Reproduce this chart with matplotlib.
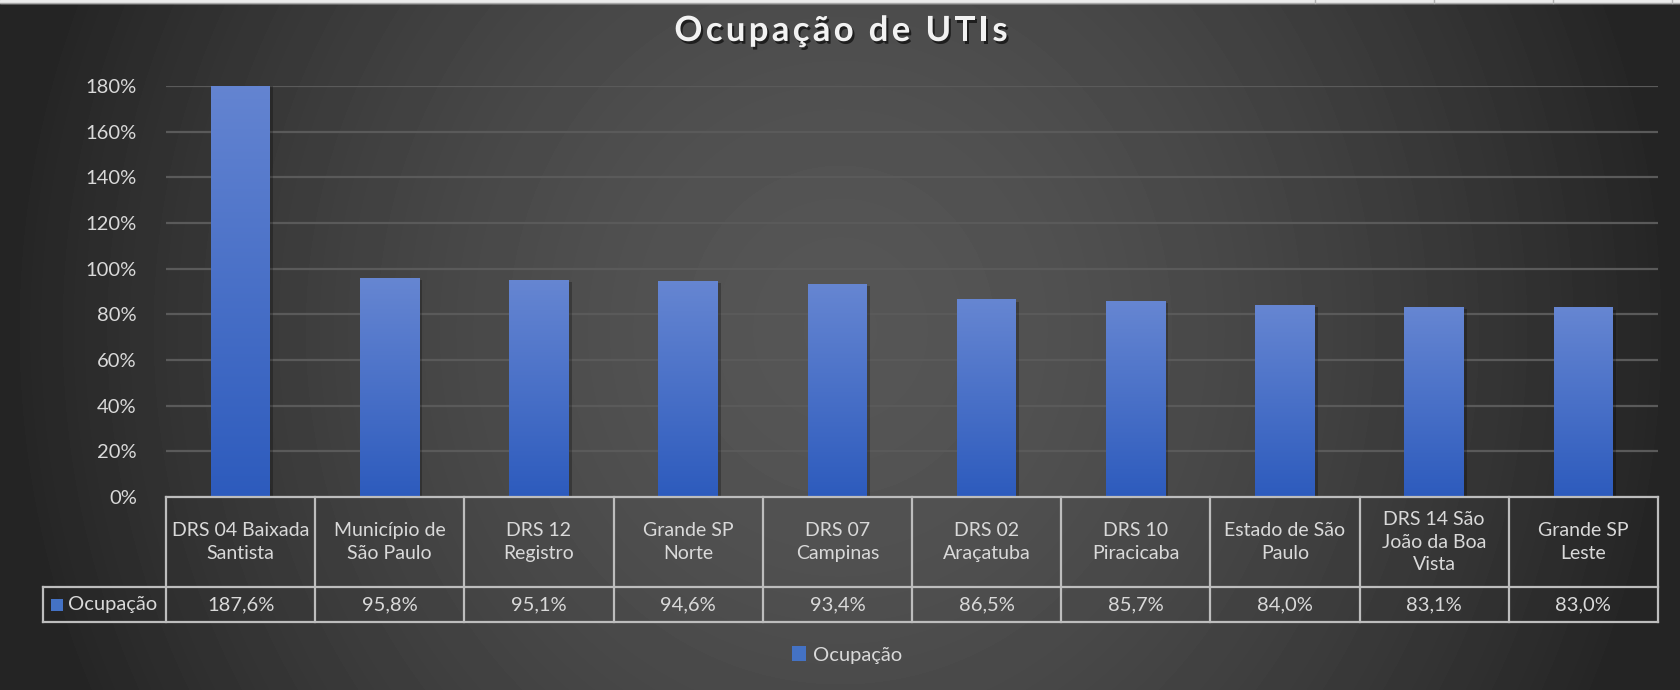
import numpy as np
import matplotlib
matplotlib.use("Agg")
import matplotlib.pyplot as plt
from matplotlib import patheffects as pe
from matplotlib.colors import LinearSegmentedColormap
from matplotlib.patches import Patch, Rectangle
from matplotlib.transforms import blended_transform_factory

plt.rcParams['font.family'] = ['Lato', 'DejaVu Sans']

# data
categories = [
    "DRS 04 Baixada\nSantista", "Município de\nSão Paulo", "DRS 12\nRegistro",
    "Grande SP\nNorte", "DRS 07\nCampinas", "DRS 02\nAraçatuba", "DRS 10\nPiracicaba",
    "Estado de São\nPaulo", "DRS 14 São\nJoão da Boa\nVista", "Grande SP\nLeste",
]
ocupacao = [1.876, 0.958, 0.951, 0.946, 0.934, 0.865, 0.857, 0.840, 0.831, 0.830]
series_name = "Ocupação"
title = "Ocupação de UTIs"
y_ticks = [0, 0.2, 0.4, 0.6, 0.8, 1.0, 1.2, 1.4, 1.6, 1.8]
y_tick_labels = ["0%", "20%", "40%", "60%", "80%", "100%", "120%", "140%", "160%", "180%"]

W, H = 1681, 690
txt = '#d9d9d9'
border = '#bdbdbd'
bar_color = '#4472c4'

fig = plt.figure(figsize=(W / 100, H / 100), dpi=100)

# radial grey background like the Excel chart area
bg = fig.add_axes([0, 0, 1, 1], zorder=-10)
yy, xx = np.mgrid[0:H, 0:W]
r = np.sqrt(((xx - 840) / (W * 0.5)) ** 2 + ((yy - 330) / (H * 1.3)) ** 2)
val = (86 - 50 * np.clip(r, 0, 1) ** 1.6) / 255
bg.imshow(val, cmap='gray', vmin=0, vmax=1, aspect='auto', extent=(0, 1, 0, 1))
bg.add_patch(Rectangle((0, 1 - 3 / H), 1, 3 / H, color='#ececec'))
bg.axhline(1 - 3 / H, color='#a6a6a6', lw=1)
for xv in [1315, 1434, 1553, 1672]:
    bg.plot([xv / W, xv / W], [1 - 3 / H, 1], color='#b0b0b0', lw=1)
bg.set_xlim(0, 1)
bg.set_ylim(0, 1)
bg.axis('off')

# plot area
ax = fig.add_axes([166 / W, 1 - 497 / H, (1658 - 166) / W, (497 - 86) / H])
ax.patch.set_alpha(0)
x = np.arange(len(categories))
bars = ax.bar(x, ocupacao, width=0.4, color=bar_color, zorder=3)

grad = LinearSegmentedColormap.from_list('bar', ['#2d5bbd', '#6686d2'])
for b in bars:
    b.set_path_effects([pe.SimplePatchShadow(offset=(2, -1.5), shadow_rgbFace='black', alpha=0.25),
                        pe.Normal()])
    x0, w, h = b.get_x(), b.get_width(), b.get_height()
    im = ax.imshow(np.linspace(0, 1, 256).reshape(-1, 1), cmap=grad, origin='lower',
                   extent=(x0, x0 + w, 0, h), aspect='auto', zorder=4)
    # path (not the Rectangle) so the axes clip box is kept
    im.set_clip_path(b.get_path(), b.get_transform())

ax.set_xlim(-0.5, len(categories) - 0.5)
ax.set_ylim(0, 1.8)
ax.set_yticks(y_ticks)
ax.set_yticklabels(y_tick_labels)
ax.set_xticks([])
ax.tick_params(axis='y', length=0, pad=21, labelcolor=txt, labelsize=14.5)
ax.yaxis.grid(True, color='#5a5a5a', linewidth=1.6)
ax.set_axisbelow(True)
for s in ax.spines.values():
    s.set_visible(False)

# data table under the bars
tr = blended_transform_factory(ax.transData, ax.transAxes)
hdr_bot = -(587 - 497) / 411
val_bot = -(622 - 497) / 411
key_left = -0.5 - (166 - 43) / 149.2
n = len(categories)
line_kw = dict(transform=tr, clip_on=False, color=border, lw=1.6, zorder=6)
ax.plot([-0.5, n - 0.5], [0, 0], **line_kw)
ax.plot([key_left, n - 0.5], [hdr_bot, hdr_bot], **line_kw)
ax.plot([key_left, n - 0.5], [val_bot, val_bot], **line_kw)
for xb in np.arange(n + 1) - 0.5:
    ax.plot([xb, xb], [0, val_bot], **line_kw)
ax.plot([key_left, key_left], [hdr_bot, val_bot], **line_kw)

for i, (cat, v) in enumerate(zip(categories, ocupacao)):
    ax.text(i, hdr_bot / 2, cat, transform=tr, ha='center', va='center',
            linespacing=1.4, fontsize=14, color=txt)
    ax.text(i, (hdr_bot + val_bot) / 2, f"{v * 100:.1f}%".replace('.', ','), transform=tr,
            ha='center', va='center', fontsize=14.5, color=txt)

mk_l = -0.5 - (166 - 51) / 149.2
mk_w = 12 / 149.2
mk_h = 12 / 411
mid = (hdr_bot + val_bot) / 2
ax.add_patch(Rectangle((mk_l, mid - mk_h / 2), mk_w, mk_h, transform=tr, clip_on=False,
                       facecolor=bar_color, zorder=6))
ax.text(-0.5 - (166 - 68) / 149.2, mid, series_name, transform=tr, ha='left', va='center',
        fontsize=14.5, color=txt)

# legend
fig.legend(handles=[Patch(facecolor=bar_color, label=series_name)], loc='center',
           bbox_to_anchor=(847 / W, 1 - 655 / H), frameon=False, fontsize=14.5,
           labelcolor=txt, handlelength=0.7, handleheight=0.7, handletextpad=0.3)

# title with extra letter spacing
renderer = fig.canvas.get_renderer()
title_kw = dict(fontsize=25, fontweight='bold', color='#f2f2f2', va='center', ha='left')
def text_w(s):
    t = fig.text(0, 0, s + '.', **title_kw)
    d = fig.text(0, 0, '.', **title_kw)
    w = t.get_window_extent(renderer).width - d.get_window_extent(renderer).width
    t.remove()
    d.remove()
    return w

tracking = 3.3
full_w = text_w(title) + tracking * (len(title) - 1)
start = 841 - full_w / 2
shadow = [pe.withSimplePatchShadow(offset=(1.5, -2), shadow_rgbFace='black', alpha=0.6)]
for i, ch in enumerate(title):
    if ch == ' ':
        continue
    xpix = start + text_w(title[:i]) + tracking * i
    fig.text(xpix / W, 1 - 31 / H, ch, path_effects=shadow, **title_kw)

fig.savefig('out.png', dpi=100)
